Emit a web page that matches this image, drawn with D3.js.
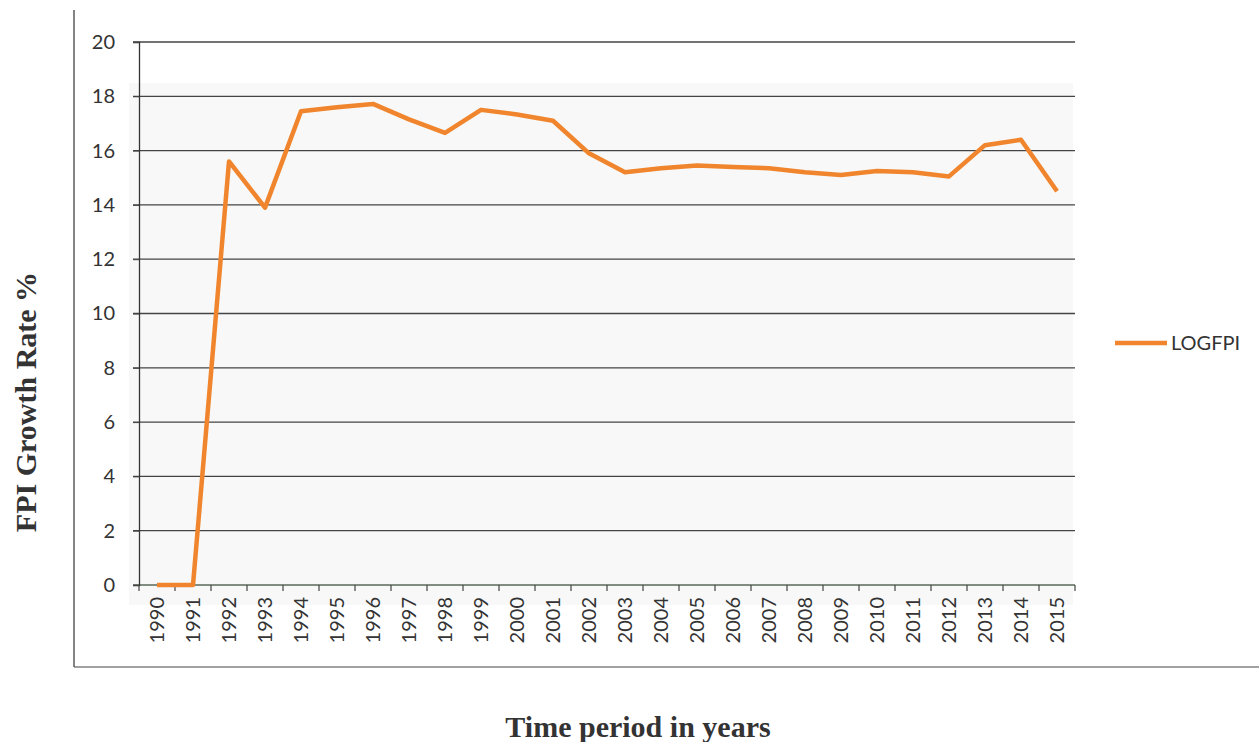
<!DOCTYPE html>
<html>
<head>
<meta charset="utf-8">
<script src="https://cdn.jsdelivr.net/npm/d3@7"></script>
<style>
  body { margin: 0; background: #fff; }
  text { font-family: Lato, "Open Sans", sans-serif; }
</style>
</head>
<body>
<div id="chart"></div>
<script>
// data
var years = ["1990","1991","1992","1993","1994","1995","1996","1997","1998","1999","2000","2001","2002",
             "2003","2004","2005","2006","2007","2008","2009","2010","2011","2012","2013","2014","2015"];
var logfpi = [0, 0, 15.6, 13.9, 17.45, 17.6, 17.72, 17.15, 16.65, 17.5, 17.33, 17.1, 15.9,
              15.2, 15.35, 15.45, 15.4, 15.35, 15.2, 15.1, 15.25, 15.2, 15.05, 16.2, 16.4, 14.5];
var yTicks = [0, 2, 4, 6, 8, 10, 12, 14, 16, 18, 20];

var W = 1259, H = 742;
var margin = {top: 42, right: 184, bottom: 157, left: 139},
    width = W - margin.left - margin.right,
    height = H - margin.top - margin.bottom;

var svg = d3.select("#chart")
  .append("svg")
    .attr("width", W)
    .attr("height", H);

// outer frame (left and bottom edges only, like the scan)
svg.append("line")
  .attr("x1", 74).attr("x2", 74).attr("y1", 10).attr("y2", 667)
  .attr("stroke", "#333").attr("stroke-width", 1.2);
svg.append("line")
  .attr("x1", 74).attr("x2", W).attr("y1", 667).attr("y2", 667)
  .attr("stroke", "#444").attr("stroke-width", 1.2);

var g = svg.append("g")
  .attr("transform", "translate(" + margin.left + "," + margin.top + ")");

// faint plot background
g.append("rect")
  .attr("x", -10).attr("y", 41)
  .attr("width", width + 8).attr("height", height - 41 + 20)
  .attr("fill", "#f7f8f7");

var x = d3.scaleBand()
  .domain(years)
  .range([0, width]);

var y = d3.scaleLinear()
  .domain([0, 20])
  .range([height, 0]);

// gridlines
g.selectAll(".grid")
  .data(yTicks)
  .enter()
  .append("line")
    .attr("x1", -6)
    .attr("x2", width)
    .attr("y1", function(d) { return y(d); })
    .attr("y2", function(d) { return y(d); })
    .attr("stroke", function(d) { return d === 0 ? "#5a6a5a" : "#444"; })
    .attr("stroke-width", 1.3);

// Y axis
var yAxis = g.append("g")
  .call(d3.axisLeft(y).tickValues(yTicks).tickSize(6).tickPadding(18));
yAxis.select(".domain").attr("stroke", "#333").attr("stroke-width", 1.3);
yAxis.selectAll(".tick line").attr("stroke", "#444");
yAxis.selectAll("text")
  .attr("fill", "#333")
  .style("font-size", "20px");

// X axis, ticks on band edges
var xAxis = g.append("g")
  .attr("transform", "translate(0," + height + ")")
  .call(d3.axisBottom(x).tickSize(0).tickPadding(0));
xAxis.select(".domain").remove();
xAxis.selectAll("text")
  .attr("fill", "#333")
  .style("font-size", "20px")
  .style("text-anchor", "end")
  .attr("dy", "0.35em")
  .attr("transform", "translate(0,12) rotate(-90)");

g.selectAll(".xtick")
  .data(years.concat(["end"]))
  .enter()
  .append("line")
    .attr("x1", function(d, i) { return i * x.bandwidth(); })
    .attr("x2", function(d, i) { return i * x.bandwidth(); })
    .attr("y1", height)
    .attr("y2", height + 6)
    .attr("stroke", "#444")
    .attr("stroke-width", 1.2);

// Line
var line = d3.line()
  .x(function(d, i) { return x(years[i]) + x.bandwidth() / 2; })
  .y(function(d) { return y(d); });

g.append("path")
  .datum(logfpi)
  .attr("fill", "none")
  .attr("stroke", "#f0852d")
  .attr("stroke-width", 4.5)
  .attr("stroke-linejoin", "round")
  .attr("d", line);

// Legend
var leg = svg.append("g").attr("transform", "translate(1115,343)");
leg.append("line")
  .attr("x1", 0).attr("x2", 52)
  .attr("stroke", "#f0852d").attr("stroke-width", 4.5);
leg.append("text")
  .attr("x", 56).attr("y", 0).attr("dy", "0.35em")
  .attr("fill", "#333")
  .style("font-size", "20px")
  .text("LOGFPI");

// Axis titles
svg.append("text")
  .attr("transform", "translate(36,402) rotate(-90)")
  .attr("text-anchor", "middle")
  .style("font-family", "'Liberation Serif', 'Times New Roman', serif")
  .style("font-weight", "bold")
  .style("font-size", "30px")
  .attr("fill", "#333")
  .text("FPI Growth Rate %");

svg.append("text")
  .attr("x", 638).attr("y", 737)
  .attr("text-anchor", "middle")
  .style("font-family", "'Liberation Serif', 'Times New Roman', serif")
  .style("font-weight", "bold")
  .style("font-size", "30px")
  .attr("fill", "#333")
  .text("Time period in years");
</script>
</body>
</html>
